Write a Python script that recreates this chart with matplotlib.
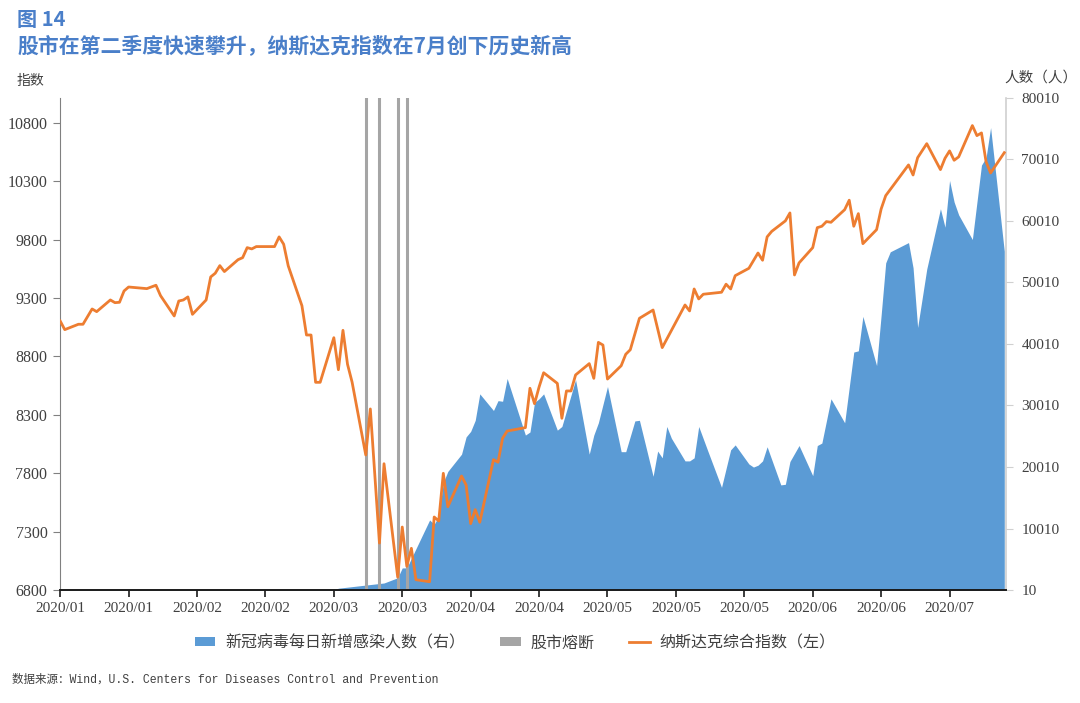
import numpy as np
import pandas as pd
import matplotlib
matplotlib.use('Agg')
import matplotlib.pyplot as plt
import matplotlib.dates as mdates
from matplotlib.patches import Patch
from matplotlib.lines import Line2D

plt.rcParams['font.family'] = ['Noto Sans CJK SC', 'DejaVu Sans']

BLUE = '#5b9bd5'
ORANGE = '#ed7d31'
GRAY = '#a5a5a5'
TITLE_BLUE = '#4a7fc9'

START = pd.Timestamp('2020-01-02')

# Nasdaq composite (left axis), days after 2020-01-02
nasdaq_day = [0, 1, 4, 5, 7, 8, 11, 12, 13, 14, 15, 19, 21, 22, 25, 26, 27, 28, 29,
              32, 33, 34, 35, 36, 39, 40, 41, 42, 43, 47, 48, 49, 50, 53, 54, 55,
              56, 57, 60, 61, 62, 63, 64, 67, 68, 70, 71, 74, 75, 76, 77, 78, 81,
              82, 83, 84, 85, 88, 89, 90, 91, 92, 95, 96, 97, 98, 102, 103, 104,
              105, 106, 109, 110, 111, 112, 113, 116, 117, 118, 119, 120, 123, 124,
              125, 127, 130, 132, 137, 138, 139, 140, 141, 145, 146, 147, 148, 151,
              153, 154, 155, 156, 159, 160, 161, 162, 165, 166, 167, 168, 169, 172,
              173, 174, 175, 176, 179, 180, 181, 186, 187, 188, 190, 193, 194, 195,
              196, 197, 200, 201, 202, 203, 204, 207]
nasdaq_val = [9103, 9029, 9075, 9075, 9206, 9183, 9283, 9260, 9263, 9360, 9394, 9380,
              9409, 9320, 9146, 9274, 9283, 9309, 9160, 9283, 9480, 9512, 9577, 9526,
              9628, 9645, 9731, 9720, 9740, 9740, 9823, 9760, 9575, 9234, 8983, 8983,
              8578, 8578, 8960, 8686, 9023, 8732, 8580, 7956, 8350, 7202, 7881, 6911,
              7339, 7003, 7157, 6888, 6871, 7425, 7391, 7799, 7513, 7776, 7699, 7368,
              7488, 7380, 7916, 7894, 8099, 8161, 8190, 8527, 8395, 8538, 8660, 8569,
              8270, 8504, 8504, 8641, 8738, 8612, 8920, 8897, 8606, 8720, 8818, 8857,
              9126, 9197, 8875, 9240, 9189, 9377, 9292, 9332, 9349, 9418, 9377, 9491,
              9554, 9685, 9623, 9823, 9870, 9960, 10028, 9497, 9600, 9731, 9902, 9914,
              9954, 9948, 10056, 10137, 9914, 10022, 9765, 9885, 10062, 10176, 10439,
              10353, 10501, 10621, 10399, 10496, 10559, 10479, 10508, 10776, 10690,
              10713, 10467, 10370, 10544]

# daily new covid cases (right axis)
cases_day = [0, 60, 61, 71, 74, 75, 76, 81, 82, 83, 84, 85, 88, 89, 90, 91, 92, 95, 96,
             97, 98, 102, 103, 104, 105, 106, 109, 110, 113, 116, 117, 118, 120, 123,
             124, 126, 127, 130, 131, 132, 133, 134, 137, 138, 139, 140, 142, 145, 147,
             148, 151, 152, 153, 154, 155, 158, 159, 160, 162, 165, 166, 167, 169, 172,
             174, 175, 176, 179, 180, 181, 182, 186, 187, 188, 190, 193, 194, 195, 196,
             197, 200, 202, 203, 204, 207]
cases_val = [0, 0, 300, 1150, 2000, 3600, 3600, 11400, 10700, 12000, 17500, 19300,
             22100, 24900, 25800, 27600, 31900, 29200, 30800, 30700, 34400, 25200,
             25700, 30500, 31100, 31900, 26000, 26600, 34200, 22100, 25200, 27200,
             33100, 22500, 22500, 27500, 27600, 18500, 22600, 21500, 26600, 24700,
             21000, 21000, 21500, 26600, 22600, 16700, 22800, 23600, 20500, 20000,
             20300, 21000, 23300, 17100, 17200, 20900, 23500, 18600, 23500, 23900,
             31100, 27200, 38700, 38900, 44500, 36500, 44700, 53200, 55000, 56500,
             52400, 42700, 52200, 62000, 59000, 66600, 63100, 61000, 57000, 69100,
             70300, 75200, 55100]

# circuit breaker days (2020-03-09, 03-12, 03-16, 03-18)
breaker_day = [67, 70, 74, 76]

left_ticks = [6800, 7300, 7800, 8300, 8800, 9300, 9800, 10300, 10800]
right_ticks = [10, 10010, 20010, 30010, 40010, 50010, 60010, 70010, 80010]


def to_dates(days):
    return START + pd.to_timedelta(days, unit='D')


fig = plt.figure(figsize=(10.8, 7.03), dpi=100)
ax = fig.add_axes([60 / 1080, 1 - 590 / 703, 946 / 1080, 492 / 703])
ax2 = ax.twinx()

ax2.fill_between(to_dates(cases_day), cases_val, 10, color=BLUE, linewidth=0)
for d in breaker_day:
    ax.axvline(to_dates([d])[0], color=GRAY, linewidth=2.2, zorder=2)
ax.plot(to_dates(nasdaq_day), nasdaq_val, color=ORANGE, linewidth=2.0, zorder=3)

ax.set_zorder(ax2.get_zorder() + 1)
ax.patch.set_visible(False)

ax.set_xlim(START - pd.Timedelta(hours=1), START + pd.Timedelta(days=207, hours=9))
ax.set_ylim(6800, 11012)
ax2.set_ylim(10, 80010)

ax.set_yticks(left_ticks)
ax2.set_yticks(right_ticks)
ax.set_xticks(to_dates(list(range(0, 196, 15))))
ax.xaxis.set_major_formatter(mdates.DateFormatter('%Y/%m'))

for lab in ax.get_yticklabels():
    lab.set_fontfamily('Liberation Serif')
    lab.set_fontsize(11.5)
    lab.set_color('#404040')
for lab in ax2.get_yticklabels():
    lab.set_fontfamily('Liberation Serif')
    lab.set_fontsize(11)
    lab.set_color('#404040')
for lab in ax.get_xticklabels():
    lab.set_fontfamily('Liberation Serif')
    lab.set_fontsize(11)
    lab.set_color('#404040')

for a in (ax, ax2):
    a.spines['top'].set_visible(False)
ax.spines['right'].set_visible(False)
ax2.spines['left'].set_visible(False)
ax2.spines['bottom'].set_visible(False)
ax.spines['left'].set_color('#808080')
ax.spines['bottom'].set_color('#1a1a1a')
ax.spines['bottom'].set_linewidth(1.4)
ax2.spines['right'].set_color('#d0d0d0')
ax2.spines['right'].set_linewidth(1.2)
ax.tick_params(axis='y', direction='out', length=5, color='#808080', pad=4)
ax.tick_params(axis='x', direction='out', length=5, width=1.2, color='#1a1a1a', pad=4)
ax2.tick_params(axis='y', direction='out', length=5, color='#d0d0d0', pad=6)

# titles and axis captions
fig.text(17 / 1080, 1 - 20 / 703, '图 14', fontsize=14.5, fontweight='bold',
         color=TITLE_BLUE, va='center', ha='left')
fig.text(17 / 1080, 1 - 47 / 703, '股市在第二季度快速攀升，纳斯达克指数在7月创下历史新高',
         fontsize=15, fontweight='bold', color=TITLE_BLUE, va='center', ha='left')
fig.text(17 / 1080, 1 - 81 / 703, '指数', fontsize=10, color='#404040',
         va='center', ha='left')
fig.text(1004 / 1080, 1 - 78 / 703, '人数（人）', fontsize=10.5, color='#404040',
         va='center', ha='left')

handles = [Patch(facecolor=BLUE, edgecolor='none'),
           Patch(facecolor=GRAY, edgecolor='none'),
           Line2D([0], [0], color=ORANGE, linewidth=2.0)]
labels = ['新冠病毒每日新增感染人数（右）', '股市熔断', '纳斯达克综合指数（左）']
fig.legend(handles, labels, loc='center', bbox_to_anchor=(0.477, 1 - 643 / 703),
           ncol=3, frameon=False, fontsize=11.5, handlelength=1.3, handleheight=0.5,
           handletextpad=0.6, columnspacing=2.2, labelcolor='#404040')

fig.text(12 / 1080, 1 - 680 / 703,
         '数据来源：Wind，U.S. Centers for Diseases Control and Prevention',
         fontsize=8.3, color='#404040', va='center', ha='left',
         family=['Liberation Mono', 'Noto Sans CJK SC'])

fig.savefig('out.png', dpi=100)
